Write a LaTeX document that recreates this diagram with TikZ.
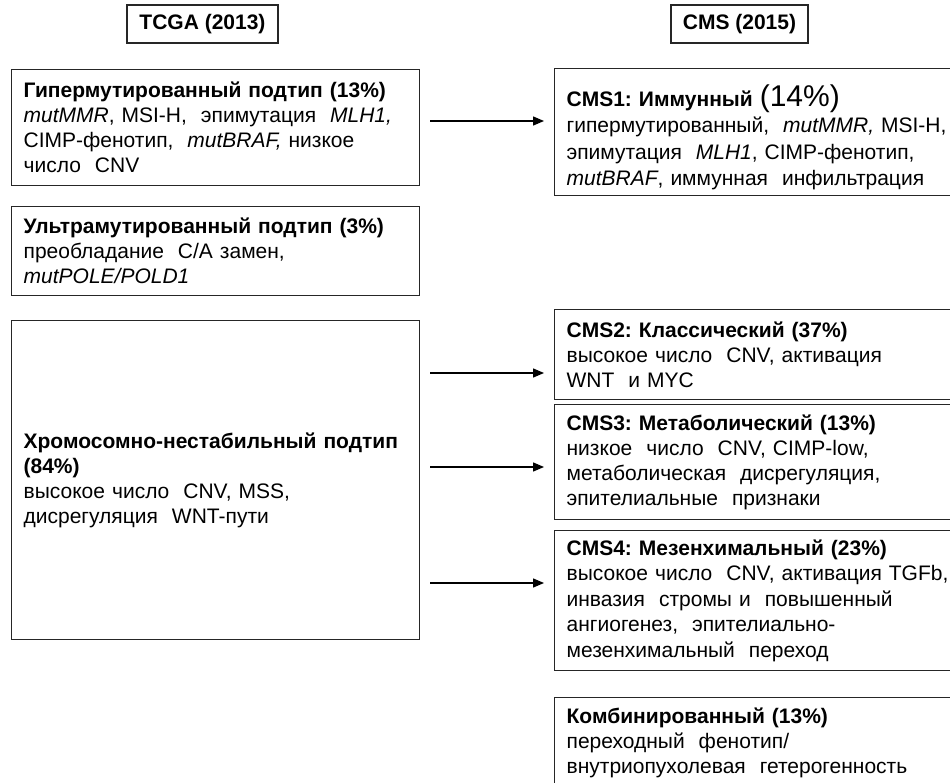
\documentclass[tikz,border=0pt]{standalone}
\usepackage{fontspec}
\setmainfont{Liberation Sans}
\usetikzlibrary{arrows.meta}
\frenchspacing
\tikzset{
  box/.style={draw=black!85, line width=1.3pt, rectangle, anchor=north west,
    inner xsep=12pt, inner ysep=0pt, align=left,
    font=\frenchspacing\fontsize{21}{25}\selectfont},
  hdr/.style={draw=black!85, line width=1.3pt, rectangle, inner sep=0pt,
    font=\fontsize{21}{25}\selectfont\bfseries},
  arr/.style={line width=1.3pt, -{Triangle[length=11pt,width=9pt]},
    shorten <=10pt, shorten >=10pt}
}
\begin{document}
\begin{tikzpicture}[x=1pt,y=-1pt]
\useasboundingbox (0,0) rectangle (950,783);
\clip (0,0) rectangle (950,783);
\fill[white] (0,0) rectangle (950,783);
% headers
\node[hdr, minimum width=151pt, minimum height=38pt] (tcga) at (202.5,24) {TCGA (2013)};
\node[hdr, minimum width=137pt, minimum height=38pt] (cms) at (739.5,24) {CMS (2015)};
% left boxes
\node[box, text width=384pt, minimum height=116pt] (hyper) at (11,69) {%
\textbf{Гипермутированный подтип (13\%)}\\
\textit{mutMMR}, MSI-H,\ \ эпимутация\ \ \textit{MLH1,}\\
CIMP-фенотип,\ \ \textit{mutBRAF,} низкое\\
число\ \ CNV};
\node[box, text width=384pt, minimum height=89pt] (ultra) at (11,206) {%
\textbf{Ультрамутированный подтип (3\%)}\\
преобладание\ \ C/A замен,\\
\textit{mutPOLE/POLD1}};
\node[box, text width=384pt, minimum height=319pt] (chromo) at (11,320) {%
\textbf{Хромосомно-нестабильный подтип}\\
\textbf{(84\%)}\\
высокое число\ \ CNV, MSS,\\
дисрегуляция\ \ WNT-пути};
% right boxes
\node[box, text width=436pt, minimum height=127pt,
  font=\frenchspacing\fontsize{21}{26.5}\selectfont] (cms1) at (554,68) {%
\rule{0pt}{32pt}\textbf{CMS1: Иммунный} {\fontsize{30}{30}\selectfont (14\%)}\\
гипермутированный,\ \ \textit{mutMMR,} MSI-H,\\
эпимутация\ \ \textit{MLH1}, CIMP-фенотип,\\
\textit{mutBRAF}, иммунная\ \ инфильтрация};
\node[box, text width=436pt, minimum height=90pt] (cms2) at (554,309) {%
\textbf{CMS2: Классический (37\%)}\\
высокое число\ \ CNV, активация\\
WNT\ \ и MYC};
\node[box, text width=436pt, minimum height=115pt] (cms3) at (554,404) {%
\textbf{CMS3: Метаболический (13\%)}\\
низкое\ \ число\ \ CNV, CIMP-low,\\
метаболическая\ \ дисрегуляция,\\
эпителиальные\ \ признаки};
\node[box, text width=436pt, minimum height=140pt,
  font=\frenchspacing\fontsize{21}{25.5}\selectfont] (cms4) at (554,530) {%
\textbf{CMS4: Мезенхимальный (23\%)}\\
высокое число\ \ CNV, активация TGFb,\\
инвазия\ \ стромы и\ \ повышенный\\
ангиогенез,\ \ эпителиально-\\
мезенхимальный\ \ переход};
\node[box, text width=436pt, minimum height=90pt] (comb) at (554,697) {%
\textbf{Комбинированный (13\%)}\\
переходный\ \ фенотип/\\
внутриопухолевая\ \ гетерогенность};
% arrow levels
\coordinate (y1) at (0,121);
\coordinate (y2) at (0,373);
\coordinate (y3) at (0,467);
\coordinate (y4) at (0,583);
\draw[arr] (hyper.east |- y1) -- (cms1.west |- y1);
\draw[arr] (chromo.east |- y2) -- (cms2.west |- y2);
\draw[arr] (chromo.east |- y3) -- (cms3.west |- y3);
\draw[arr] (chromo.east |- y4) -- (cms4.west |- y4);
\end{tikzpicture}
\end{document}
